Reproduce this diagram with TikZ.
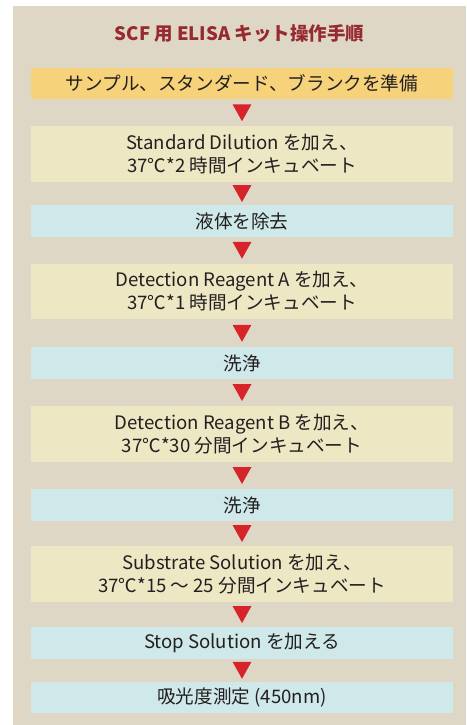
\documentclass[tikz,border=0pt]{standalone}
\usepackage{fontspec}
\setmainfont{Noto Sans CJK JP}
\usetikzlibrary{decorations.markings}
\definecolor{panelc}{HTML}{DED7C6}
\definecolor{orangec}{HTML}{F6D27B}
\definecolor{yellowc}{HTML}{EEE7C4}
\definecolor{bluec}{HTML}{CFE8E9}
\definecolor{titlec}{HTML}{962A30}
\definecolor{arrowc}{HTML}{D7232A}
\definecolor{textc}{HTML}{231F20}
\begin{document}
\begin{tikzpicture}[x=1pt,y=-1pt,
  box/.style={minimum width=422pt, inner sep=0pt, align=center,
    font=\fontsize{18.6}{23}\selectfont, text=textc},
  single/.style={box, minimum height=31.5pt},
  double/.style={box, minimum height=55.5pt},
  flow/.style={postaction={decorate}, decoration={markings,
    mark=at position 0.5 with {\fill[arrowc] (8.5,0) -- (-8.5,9.5) -- (-8.5,-9.5) -- cycle;}}}
]
\useasboundingbox (0,0) rectangle (466,725);
\fill[panelc] (13,6) rectangle (466,725);
\node[text=titlec, font=\fontsize{18.5}{22}\selectfont\bfseries] (title) at (239.5,33.5) {SCF 用 ELISA キット操作手順};
\node[single, fill=orangec] (b1) at (242,83.5) {サンプル、スタンダード、ブランクを準備};
\node[double, fill=yellowc] (b2) at (242,154) {Standard Dilution を加え、\\37℃*2 時間インキュベート};
\node[single, fill=bluec] (b3) at (242,221) {液体を除去};
\node[double, fill=yellowc] (b4) at (242,291.5) {Detection Reagent A を加え、\\37℃*1 時間インキュベート};
\node[single, fill=bluec] (b5) at (242,363) {洗浄};
\node[double, fill=yellowc] (b6) at (242,434) {Detection Reagent B を加え、\\37℃*30 分間インキュベート};
\node[single, fill=bluec] (b7) at (242,505) {洗浄};
\node[double, fill=yellowc] (b8) at (242,574) {Substrate Solution を加え、\\37℃*15 ～ 25 分間インキュベート};
\node[single, fill=bluec] (b9) at (242,643) {Stop Solution を加える};
\node[single, fill=bluec] (b10) at (242,697.5) {吸光度測定 (450nm)};
\foreach \a/\b in {b1/b2,b2/b3,b3/b4,b4/b5,b5/b6,b6/b7,b7/b8,b8/b9,b9/b10}
  \path[flow] (\a) -- (\b);
\end{tikzpicture}
\end{document}
